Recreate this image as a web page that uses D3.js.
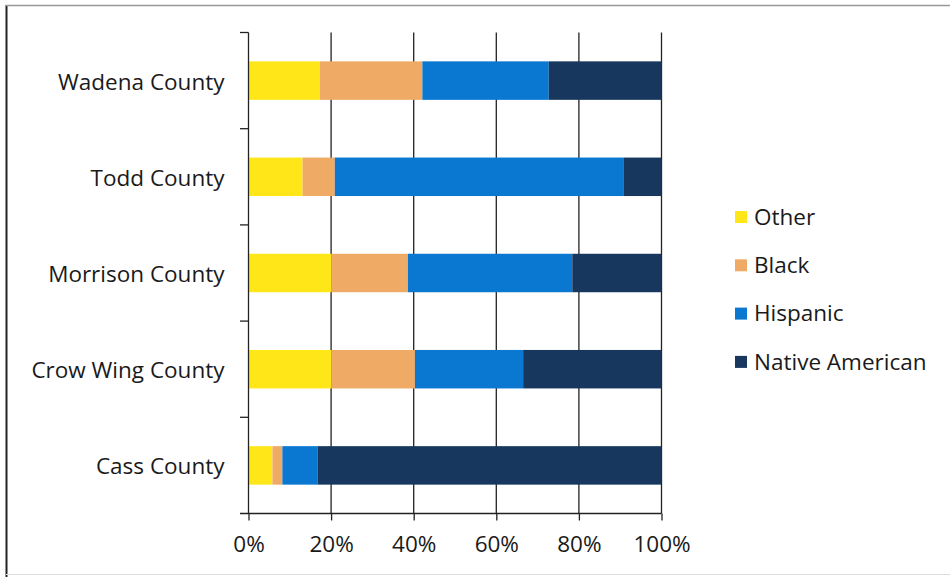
<!DOCTYPE html>
<html><head><meta charset="utf-8">
<script src="https://cdn.jsdelivr.net/npm/d3@7"></script>
<style>body{margin:0;background:#fff;} text{font-family:"Open Sans", sans-serif;}</style>
</head><body>
<svg id="c" width="950" height="577"></svg>
<script>
const counties = ["Wadena County","Todd County","Morrison County","Crow Wing County","Cass County"];
const seriesNames = ["Other","Black","Hispanic","Native American"];
const other    = [17.3, 13.1, 20.1, 20.1, 5.8];
const black    = [24.8, 7.8, 18.5, 20.2, 2.4];
const hispanic = [30.6, 70.0, 39.8, 26.2, 8.5];
const native   = [27.3, 9.1, 21.6, 33.5, 83.3];
const tickValues = [0,20,40,60,80,100];
const colors = ["#FFE619","#EFAB66","#0A77D0","#17375E"];
const FONT = "'Open Sans', sans-serif";
const FS = 22.5;

const rows = counties.map((c,i)=>({county:c, "Other":other[i], "Black":black[i], "Hispanic":hispanic[i], "Native American":native[i]}));
const stack = d3.stack().keys(seriesNames).offset(d3.stackOffsetExpand)(rows);

const svg = d3.select("#c");
// frame
svg.append("line").attr("x1",6.5).attr("x2",6.5).attr("y1",5).attr("y2",577).attr("stroke","#222").attr("stroke-width",2);
svg.append("line").attr("x1",6).attr("x2",950).attr("y1",5.5).attr("y2",5.5).attr("stroke","#999").attr("stroke-width",1.5);
svg.append("line").attr("x1",6).attr("x2",950).attr("y1",574.5).attr("y2",574.5).attr("stroke","#ddd").attr("stroke-width",1);

const x = d3.scaleLinear().domain([0,1]).range([248.5,661.5]);
const y = d3.scaleBand().domain(counties).range([32.5,513.5]).paddingInner(0.6).paddingOuter(0.3);

// gridlines
svg.append("g").selectAll("line").data(tickValues.slice(1)).join("line")
  .attr("x1",d=>x(d/100)).attr("x2",d=>x(d/100)).attr("y1",32.5).attr("y2",513.5)
  .attr("stroke","#222").attr("stroke-width",1.3);

// bars
svg.append("g").selectAll("g").data(stack).join("g").attr("fill",(d,i)=>colors[i])
  .selectAll("rect").data(d=>d).join("rect")
  .attr("x",d=>x(d[0])).attr("width",d=>x(d[1])-x(d[0]))
  .attr("y",d=>y(d.data.county)).attr("height",y.bandwidth());

// x axis
const xAxis = d3.axisBottom(x).tickValues(tickValues.map(v=>v/100)).tickFormat(d=>Math.round(d*100)+"%").tickSize(7).tickPadding(16);
const gx = svg.append("g").attr("transform","translate(0,513.5)").call(xAxis);
gx.select(".domain").attr("stroke","#222").attr("stroke-width",1.3).attr("d","M240,0H661.5");
gx.selectAll(".tick line").attr("stroke","#222").attr("stroke-width",1.3);
gx.selectAll("text").attr("font-size",FS).attr("fill","#1a1a1a").attr("font-family",FONT);

// y axis
const yAxis = d3.axisLeft(y).tickSize(0).tickPadding(24);
const gy = svg.append("g").attr("transform","translate(248.5,0)").call(yAxis);
gy.select(".domain").attr("stroke","#222").attr("stroke-width",1.3).attr("d","M0,32.5V513.5");
gy.selectAll("text").attr("font-size",FS).attr("fill","#1a1a1a").attr("font-family",FONT).attr("dy","0.4em");
// boundary ticks
const step = y.step();
const bounds = d3.range(0,6).map(i=>32.5+i*step);
svg.append("g").selectAll("line").data(bounds.slice(0,5)).join("line")
  .attr("x1",240).attr("x2",248.5).attr("y1",d=>d).attr("y2",d=>d).attr("stroke","#222").attr("stroke-width",1.3);

// legend
const lg = svg.append("g").attr("transform","translate(735,217)");
seriesNames.forEach((s,i)=>{
  const g = lg.append("g").attr("transform",`translate(0,${i*48.3})`);
  g.append("rect").attr("x",0).attr("y",-6).attr("width",12).attr("height",12).attr("fill",colors[i]);
  g.append("text").attr("x",19).attr("y",0).attr("dy","0.35em").attr("font-size",FS).attr("fill","#1a1a1a").attr("font-family",FONT).text(s);
});
</script>
</body></html>
